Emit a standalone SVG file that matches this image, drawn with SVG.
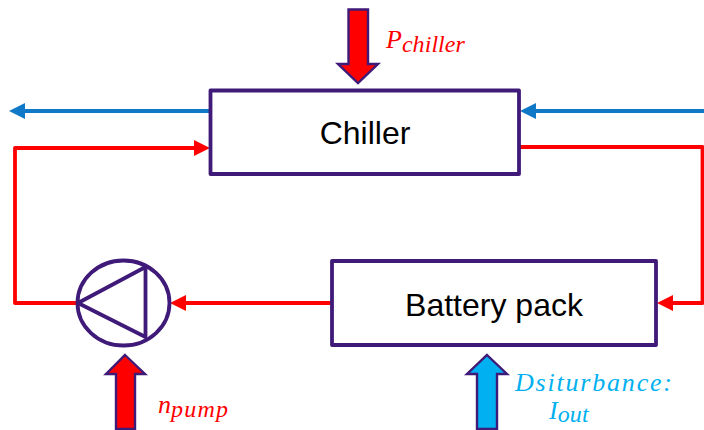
<svg xmlns="http://www.w3.org/2000/svg" width="704" height="430" viewBox="0 0 704 430">
<style>
.box{fill:#fff;stroke:#3f1a78;stroke-width:3.800;stroke-linejoin:round}
.sym{fill:none;stroke:#3f1a78;stroke-width:3.800;stroke-linejoin:round}
.blk{stroke:#3f1a78;stroke-width:2.400;stroke-linejoin:miter}
.red{fill:none;stroke:#ff0000;stroke-width:3.800;stroke-linejoin:round}
.blue{fill:none;stroke:#0f79c8;stroke-width:4.200}
.lab{font-family:"Liberation Sans",Arial,sans-serif;font-size:32px;fill:#000;text-anchor:middle}
.m{font-family:"Liberation Serif","Times New Roman",serif;font-style:italic}
.rt{fill:#ff0000}.bt{fill:#00b0f0}
</style>
<defs>
<marker id="ar" markerUnits="userSpaceOnUse" markerWidth="16" markerHeight="18" refX="4" refY="8" orient="auto"><path d="M0 0L16 8L0 16Z" fill="#ff0000"/></marker>
<marker id="ab" markerUnits="userSpaceOnUse" markerWidth="16" markerHeight="18" refX="4" refY="8" orient="auto"><path d="M0 0L16 8L0 16Z" fill="#0f79c8"/></marker>
</defs>
<g id="connectors">
<path class="blue" d="M211 111H21" marker-end="url(#ab)"/>
<path class="blue" d="M704 111H532" marker-end="url(#ab)"/>
<path class="red" d="M78 303H15V148H198" marker-end="url(#ar)"/>
<path class="red" d="M519 147H702.500V303H669" marker-end="url(#ar)"/>
<path class="red" d="M332 303H182" marker-end="url(#ar)"/>
</g>
<g id="chiller"><rect class="box" x="210.500" y="90.500" width="308.500" height="83.500"/><text class="lab" x="365" y="144">Chiller</text></g>
<g id="battery"><rect class="box" x="332" y="261" width="324" height="84"/><text class="lab" x="494" y="316">Battery pack</text></g>
<g id="pump"><ellipse class="sym" cx="123.500" cy="303" rx="46" ry="42.500"/><path class="sym" d="M78 303L145.500 267V337Z"/></g>
<g id="p-chiller"><path class="blk" fill="#ff0000" d="M348.500 9.500H368V64H378L358 83L338 64H348.500Z"/><text class="m rt" x="386" y="48" font-size="26">P<tspan dy="4" font-size="24" textLength="63">chiller</tspan></text></g>
<g id="n-pump"><path class="blk" fill="#ff0000" d="M125 355L145 374H135V429H116V374H106Z"/><text class="m rt" x="158" y="413" font-size="26">n<tspan dy="4" font-size="24" textLength="57">pump</tspan></text></g>
<g id="disturbance"><path class="blk" fill="#00b0f0" d="M487 355L507 374H497V429H477V374H467Z"/><text class="m bt" x="515" y="391" font-size="26" textLength="157">Dsiturbance:</text><text class="m bt" x="549" y="419" font-size="26">I<tspan dy="3" font-size="24" textLength="31">out</tspan></text></g>
</svg>
